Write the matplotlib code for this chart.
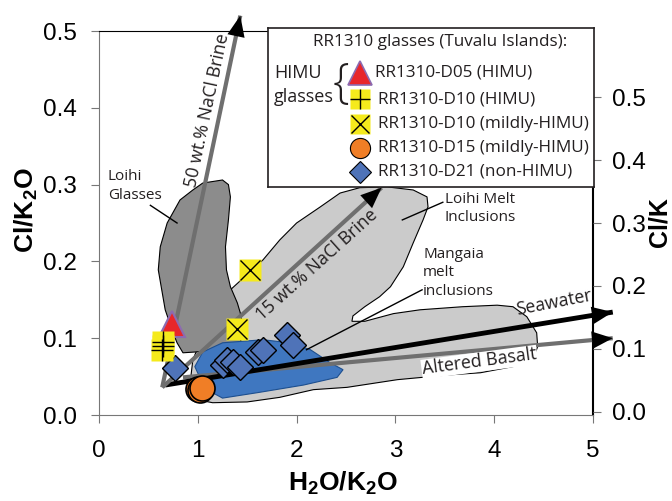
import matplotlib.pyplot as plt

plt.rcParams['font.family'] = 'Liberation Sans'
plt.rcParams['mathtext.fontset'] = 'custom'
plt.rcParams['mathtext.rm'] = 'Liberation Sans'
plt.rcParams['mathtext.bf'] = 'Liberation Sans:bold'

NOTE_FONT = 'Open Sans'

# fields (H2O/K2O, Cl/K2O)
loihi_glass_x = [1.05, 1.25, 1.31, 1.33, 1.31, 1.28, 1.29, 1.33, 1.40, 1.43, 1.46, 1.43,
                 1.23, 0.97, 0.85, 0.79, 0.75, 0.67, 0.60, 0.62, 0.69, 0.82, 0.95]
loihi_glass_y = [0.302, 0.306, 0.300, 0.284, 0.254, 0.219, 0.189, 0.167, 0.146, 0.133, 0.111, 0.094,
                 0.085, 0.082, 0.081, 0.094, 0.107, 0.137, 0.189, 0.219, 0.250, 0.280, 0.293]

melt_incl_x = [1.33, 1.66, 1.83, 2.00, 2.24, 2.44, 2.64, 2.92, 3.18, 3.32, 3.33, 3.28, 3.18, 3.08,
               2.95, 2.84, 2.69, 2.57, 2.56, 2.69, 2.98, 3.25, 3.68, 4.03, 4.19, 4.33, 4.43, 4.44,
               4.39, 4.19, 3.86, 3.52, 3.02, 2.51, 2.17, 1.83, 1.50, 1.15, 0.99, 0.92, 0.95, 1.12]
melt_incl_y = [0.163, 0.202, 0.228, 0.250, 0.271, 0.289, 0.296, 0.297, 0.293, 0.284, 0.271, 0.254,
               0.224, 0.193, 0.167, 0.154, 0.141, 0.129, 0.122, 0.122, 0.132, 0.137, 0.141, 0.143,
               0.141, 0.128, 0.107, 0.089, 0.072, 0.063, 0.055, 0.052, 0.046, 0.036, 0.033, 0.023,
               0.017, 0.016, 0.020, 0.039, 0.072, 0.124]

blue_field_x = [1.05, 1.25, 1.66, 1.93, 2.14, 2.34, 2.47, 2.41, 2.07, 1.60, 1.25, 1.15, 1.02, 0.97]
blue_field_y = [0.082, 0.094, 0.098, 0.094, 0.085, 0.068, 0.059, 0.049, 0.039, 0.029, 0.022,
                0.029, 0.049, 0.063]

# mixing vectors: start and end
brine50_x, brine50_y = [0.64, 1.43], [0.036, 0.52]
brine15_x, brine15_y = [0.64, 2.86], [0.036, 0.296]
seawater_x, seawater_y = [0.67, 5.20], [0.039, 0.134]
basalt_x, basalt_y = [0.85, 5.20], [0.049, 0.100]

# RR1310 glasses
d05_x, d05_y = [0.74], [0.119]
d10h_x, d10h_y = [0.65, 0.65, 0.64], [0.095, 0.090, 0.085]
d10m_x, d10m_y = [1.53, 1.40], [0.189, 0.112]
d15_x, d15_y = [1.00, 1.02, 1.04], [0.034, 0.033, 0.035]
d21_x = [0.77, 1.26, 1.30, 1.36, 1.43, 1.61, 1.66, 1.90, 1.96]
d21_y = [0.061, 0.065, 0.072, 0.069, 0.063, 0.082, 0.085, 0.104, 0.091]

fig = plt.figure(figsize=(6.72, 5.01), dpi=100)
ax = fig.add_axes([99 / 672, 1 - 415 / 501, 494 / 672, 384 / 501])
ax.set_xlim(0, 5)
ax.set_ylim(0, 0.5)

ax.fill(melt_incl_x, melt_incl_y, fc='#cbcbcb', ec='black', lw=0.8, zorder=1)
ax.fill(loihi_glass_x, loihi_glass_y, fc='#8c8c8c', ec='black', lw=0.8, zorder=2)
ax.fill(blue_field_x, blue_field_y, fc='#3f77c0', ec='#1d4f8f', lw=0.8, zorder=3)


def vector(xs, ys, color, lw):
    ax.plot(xs, ys, color=color, lw=lw, solid_capstyle='butt', clip_on=False, zorder=4)
    ax.annotate('', xy=(xs[1], ys[1]), xytext=(xs[0], ys[0]), annotation_clip=False,
                arrowprops=dict(arrowstyle='-|>,head_length=1.0,head_width=0.42',
                                mutation_scale=15, lw=0, fc='black', ec='black',
                                shrinkA=0, shrinkB=0), zorder=5)


vector(basalt_x, basalt_y, '#6f6f6f', 3.0)
vector(seawater_x, seawater_y, 'black', 3.5)
vector(brine50_x, brine50_y, '#6f6f6f', 3.0)
vector(brine15_x, brine15_y, '#6f6f6f', 3.0)

# samples
ax.plot(d21_x, d21_y, 'D', ms=13.5, mfc='#4f73b8', mec='black', mew=1.0, zorder=6)
ax.plot(d15_x, d15_y, 'o', ms=18, mfc='#f07e26', mec='black', mew=1.2, zorder=6)
ax.plot(d10m_x, d10m_y, 's', ms=16, mfc='#f5ea1c', mec='none', zorder=6)
ax.plot(d10m_x, d10m_y, 'x', ms=15, mec='black', mew=1.0, zorder=6)
ax.plot(d10h_x, d10h_y, 's', ms=16, mfc='#f5ea1c', mec='none', zorder=6)
ax.plot(d10h_x, d10h_y, '+', ms=16, mec='black', mew=1.0, zorder=6)
ax.plot(d05_x, d05_y, '^', ms=19, mfc='#e8262a', mec='#8c6bb1', mew=1.5, zorder=5.5)

# field labels
nt = dict(family=NOTE_FONT, fontsize=11, color='#231f20', zorder=7)
lt_line = dict(family=NOTE_FONT, fontsize=12.8, color='#231f20', zorder=7)
ax.text(0.09, 0.298, 'Loihi\nGlasses', ha='left', va='center', linespacing=1.3, **nt)
ax.plot([0.52, 0.79], [0.273, 0.250], color='black', lw=1, zorder=7)
ax.text(3.50, 0.269, 'Loihi Melt\nInclusions', ha='left', va='center', linespacing=1.3, **nt)
ax.plot([3.48, 3.07], [0.277, 0.254], color='black', lw=1, zorder=7)
ax.text(3.28, 0.185, 'Mangaia\nmelt\ninclusions', ha='left', va='center', linespacing=1.3, **nt)
ax.plot([3.27, 2.10], [0.163, 0.085], color='black', lw=1, zorder=7)
ax.text(1.10, 0.397, '50 wt.% NaCl Brine', ha='center', va='center', rotation=78,
        rotation_mode='anchor', **lt_line)
ax.text(2.20, 0.195, '15 wt.% NaCl Brine', ha='center', va='center', rotation=42,
        rotation_mode='anchor', **lt_line)
ax.text(4.60, 0.146, 'Seawater', ha='center', va='center', rotation=11,
        rotation_mode='anchor', **lt_line)
ax.text(3.85, 0.069, 'Altered Basalt', ha='center', va='center', rotation=7.5,
        rotation_mode='anchor', bbox=dict(fc='white', ec='none', pad=0.5), **lt_line)

xticks = [0, 1, 2, 3, 4, 5]
yticks = [0.0, 0.1, 0.2, 0.3, 0.4, 0.5]
ax.set_xticks(xticks)
ax.set_xticklabels([str(t) for t in xticks])
ax.set_yticks(yticks)
ax.set_yticklabels(['%.1f' % t for t in yticks])
ax.tick_params(axis='x', direction='out', length=6, color='#777777', labelsize=17.5, pad=12)
ax.tick_params(axis='y', direction='out', length=6, color='#777777', labelsize=17.5, pad=10)
ax.spines['left'].set_color('#777777')
ax.spines['bottom'].set_color('#777777')
ax.spines['top'].set_color('black')
ax.spines['right'].set_color('black')
ax.spines['right'].set_linewidth(1.5)

ax2 = ax.twinx()
ax2.set_ylim(-0.005, 0.605)
ax2.set_yticks(yticks)
ax2.set_yticklabels(['%.1f' % t for t in yticks])
ax2.tick_params(axis='y', direction='out', length=6, color='#777777', labelsize=17.5, pad=8)
for s in ax2.spines.values():
    s.set_visible(False)

fig.text(343 / 672, 1 - 483 / 501, r'H$_\mathbf{2}$O/K$_\mathbf{2}$O', fontsize=19,
         fontweight='bold', ha='center', va='center')
fig.text(26 / 672, 1 - 210 / 501, r'Cl/K$_\mathbf{2}$O', fontsize=19, fontweight='bold',
         ha='center', va='center', rotation=90)
fig.text(660 / 672, 1 - 222 / 501, 'Cl/K', fontsize=18, fontweight='bold',
         ha='center', va='center', rotation=90)

# legend box
leg = fig.add_axes([268 / 672, 1 - 187 / 501, 326 / 672, 159 / 501])
leg.set_xlim(0, 326)
leg.set_ylim(159, 0)
leg.set_xticks([])
leg.set_yticks([])
for s in leg.spines.values():
    s.set_linewidth(1.2)
    s.set_color('#231f20')

lt = dict(family=NOTE_FONT, fontsize=12.3, color='#231f20', va='center')
leg.text(172, 14, 'RR1310 glasses (Tuvalu Islands):', ha='center', **lt)
leg.text(6, 45, 'HIMU', ha='left', family=NOTE_FONT, fontsize=13, color='#231f20', va='center')
leg.text(6, 69, 'glasses', ha='left', family=NOTE_FONT, fontsize=13, color='#231f20',
         va='center')
leg.text(73, 57, '{', ha='center', family=NOTE_FONT, fontsize=34, fontweight='light',
         color='#231f20', va='center')

rows = [45, 71, 96, 120, 144]
names = ['RR1310-D05 (HIMU)', 'RR1310-D10 (HIMU)', 'RR1310-D10 (mildly-HIMU)',
         'RR1310-D15 (mildly-HIMU)', 'RR1310-D21 (non-HIMU)']
mx = 92
leg.plot(mx, rows[0], '^', ms=17, mfc='#e8262a', mec='#8c6bb1', mew=1.2)
leg.plot(mx, rows[1], 's', ms=14, mfc='#f5ea1c', mec='none')
leg.plot(mx, rows[1], '+', ms=14, mec='black', mew=1.0)
leg.plot(mx, rows[2], 's', ms=14, mfc='#f5ea1c', mec='none')
leg.plot(mx, rows[2], 'x', ms=13, mec='black', mew=1.0)
leg.plot(mx, rows[3], 'o', ms=14.5, mfc='#f07e26', mec='black', mew=0.8)
leg.plot(mx, rows[4], 'D', ms=11, mfc='#4f73b8', mec='black', mew=0.8)
for i, (r, n) in enumerate(zip(rows, names)):
    leg.text(107 if i == 0 else 110, r, n, ha='left', **lt)

fig.savefig('out.png', dpi=100)
